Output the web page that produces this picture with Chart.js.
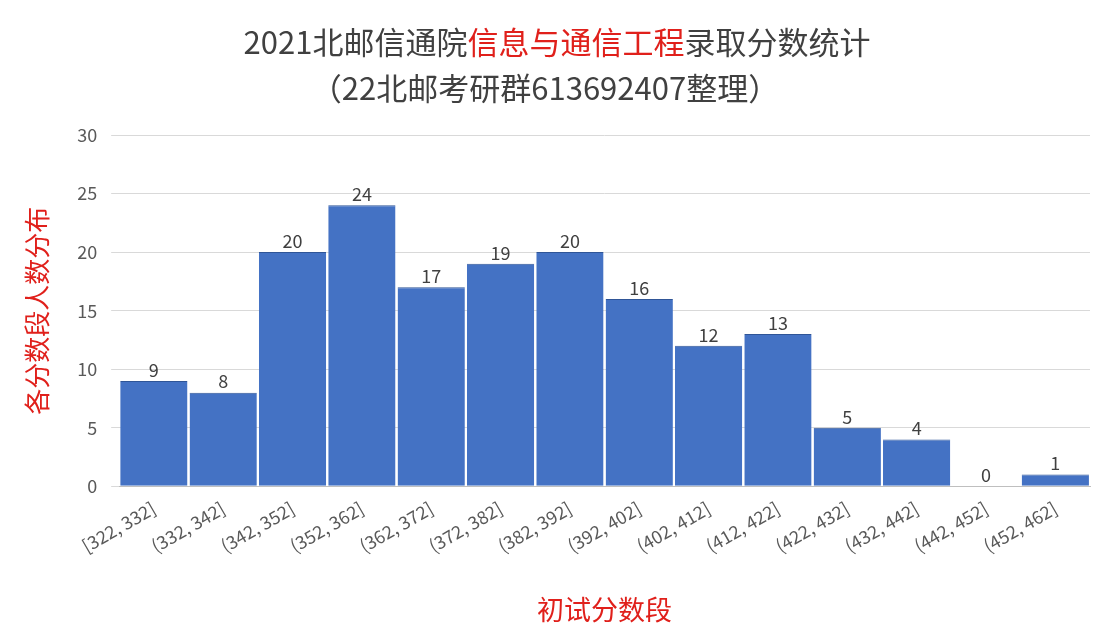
<!DOCTYPE html>
<html>
<head>
<meta charset="utf-8">
<script src="https://cdn.jsdelivr.net/npm/chart.js@4"></script>
<style>
  html, body { margin: 0; padding: 0; background: #fff; }
  #wrap { width: 1110px; height: 644px; }
</style>
</head>
<body>
<div id="wrap"><canvas id="myChart"></canvas></div>
<script>
Chart.defaults.font.family = '"Noto Sans CJK SC", "Noto Sans", sans-serif';
Chart.defaults.color = '#595959';

// Data
const categories = ['[322, 332]', '(332, 342]', '(342, 352]', '(352, 362]', '(362, 372]', '(372, 382]',
    '(382, 392]', '(392, 402]', '(402, 412]', '(412, 422]', '(422, 432]', '(432, 442]', '(442, 452]', '(452, 462]'];
const counts = [9, 8, 20, 24, 17, 19, 20, 16, 12, 13, 5, 4, 0, 1];
const yTicks = [0, 5, 10, 15, 20, 25, 30];

const COLORS = {
    BAR: '#4472C4',
    RED: '#E0201B',
    TEXT: '#404040',
    GRID: '#D9D9D9'
};

// Title with a red middle part, drawn by hand
const titlePlugin = {
    id: 'mixedTitle',
    afterDraw(chart) {
        const ctx = chart.ctx;
        const parts = [
            ['2021北邮信通院', COLORS.TEXT],
            ['信息与通信工程', COLORS.RED],
            ['录取分数统计', COLORS.TEXT]
        ];
        ctx.save();
        ctx.font = '31px "Noto Sans CJK SC"';
        ctx.textBaseline = 'middle';
        let total = 0;
        parts.forEach(p => total += ctx.measureText(p[0]).width);
        let x = chart.width / 2 - total / 2 + 2;
        parts.forEach(p => {
            ctx.fillStyle = p[1];
            ctx.textAlign = 'left';
            ctx.fillText(p[0], x, 42);
            x += ctx.measureText(p[0]).width;
        });
        ctx.fillStyle = COLORS.TEXT;
        ctx.textAlign = 'center';
        ctx.fillText('（22北邮考研群613692407整理）', chart.width / 2 - 10, 88);
        ctx.restore();
    }
};

// Value labels above bars
const valueLabels = {
    id: 'valueLabels',
    afterDatasetsDraw(chart) {
        const ctx = chart.ctx;
        const meta = chart.getDatasetMeta(0);
        ctx.save();
        ctx.font = '18px "Noto Sans CJK SC"';
        ctx.fillStyle = COLORS.TEXT;
        ctx.textAlign = 'center';
        ctx.textBaseline = 'bottom';
        meta.data.forEach((bar, i) => {
            ctx.fillText(counts[i], bar.x, bar.y - 2);
        });
        ctx.restore();
    }
};

new Chart(document.getElementById('myChart'), {
    type: 'bar',
    data: {
        labels: categories,
        datasets: [{
            data: counts,
            backgroundColor: COLORS.BAR,
            borderColor: '#2F5597',
            borderWidth: { top: 1, left: 0, right: 0, bottom: 0 },
            barPercentage: 0.97,
            categoryPercentage: 1.0
        }]
    },
    options: {
        responsive: true,
        maintainAspectRatio: false,
        animation: false,
        layout: { padding: { top: 135, right: 20, left: 18, bottom: 14 } },
        plugins: {
            legend: { display: false },
            tooltip: { enabled: false }
        },
        scales: {
            x: {
                grid: { display: false },
                border: { color: '#BFBFBF' },
                ticks: {
                    color: '#595959',
                    font: { size: 18 },
                    minRotation: 30,
                    maxRotation: 30
                },
                title: {
                    display: true,
                    text: '初试分数段',
                    color: COLORS.RED,
                    font: { size: 27 },
                    padding: { top: 34 }
                }
            },
            y: {
                min: 0,
                max: 30,
                afterBuildTicks: axis => { axis.ticks = yTicks.map(v => ({ value: v })); },
                grid: { color: COLORS.GRID },
                border: { display: false },
                ticks: { color: '#595959', font: { size: 18 }, padding: 14 },
                title: {
                    display: true,
                    text: '各分数段人数分布',
                    color: COLORS.RED,
                    font: { size: 26 },
                    padding: { bottom: 10 }
                }
            }
        }
    },
    plugins: [titlePlugin, valueLabels]
});
</script>
</body>
</html>
